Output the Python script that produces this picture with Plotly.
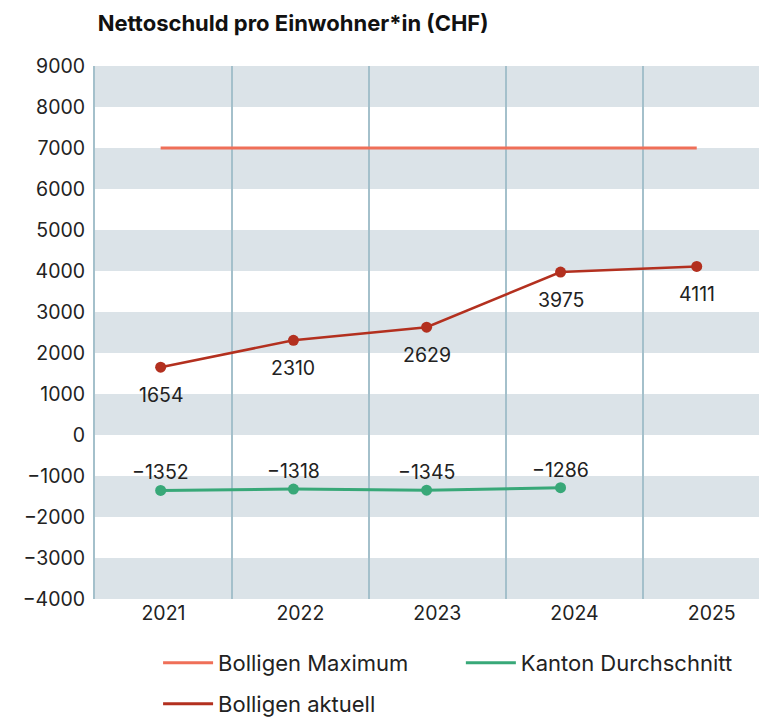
import plotly.graph_objects as go

# data
dates = ["2021-06-25", "2022-06-14", "2023-06-04", "2024-05-26", "2025-05-24"]
bolligen_aktuell = [1654, 2310, 2629, 3975, 4111]
kanton_dates = ["2021-06-25", "2022-06-14", "2023-06-04", "2024-05-26"]
kanton_schnitt = [-1352, -1318, -1345, -1286]
bolligen_max = [7000, 7000, 7000, 7000, 7000]
y_ticks = [-4000, -3000, -2000, -1000, 0, 1000, 2000, 3000, 4000, 5000, 6000, 7000, 8000, 9000]

FONT = "Inter"
TXT = "#222222"
C_MAX = "#ef6f58"
C_AKT = "#b3301f"
C_KAN = "#38a878"
BAND = "#dbe3e8"
GRID = "#a4c0cb"

fig = go.Figure()

fig.add_trace(go.Scatter(
    x=dates, y=bolligen_max, mode="lines", showlegend=False,
    line=dict(color=C_MAX, width=3)))
fig.add_trace(go.Scatter(
    x=kanton_dates, y=kanton_schnitt, mode="lines+markers", showlegend=False,
    line=dict(color=C_KAN, width=3), marker=dict(size=11, color=C_KAN)))
fig.add_trace(go.Scatter(
    x=dates, y=bolligen_aktuell, mode="lines+markers", showlegend=False,
    line=dict(color=C_AKT, width=2.5), marker=dict(size=11, color=C_AKT)))

# legend entries (line only, like the reference), one legend box per entry
fig.add_trace(go.Scatter(x=[None], y=[None], mode="lines", name="Bolligen Maximum",
                         line=dict(color=C_MAX, width=3), legend="legend"))
fig.add_trace(go.Scatter(x=[None], y=[None], mode="lines", name="Kanton Durchschnitt",
                         line=dict(color=C_KAN, width=3), legend="legend3"))
fig.add_trace(go.Scatter(x=[None], y=[None], mode="lines", name="Bolligen aktuell",
                         line=dict(color=C_AKT, width=3), legend="legend2"))

# grey bands every other 1000
shapes = []
for lo in y_ticks[:-1]:
    if (lo // 1000) % 2 == 0:
        shapes.append(dict(type="rect", xref="paper", yref="y", x0=0, x1=1, y0=lo, y1=lo + 1000,
                           fillcolor=BAND, line=dict(width=0), layer="below"))

annotations = []
for d, v in zip(dates, bolligen_aktuell):
    annotations.append(dict(x=d, y=v, text=str(v), showarrow=False, yshift=-28,
                            font=dict(family=FONT, size=19.5, color=TXT)))
for d, v in zip(kanton_dates, kanton_schnitt):
    annotations.append(dict(x=d, y=v, text=str(v).replace("-", "\u2212"), showarrow=False, yshift=18,
                            font=dict(family=FONT, size=19.5, color=TXT)))

leg = dict(orientation="h", xanchor="left", yref="container", yanchor="middle",
           itemwidth=50, font=dict(size=22, color=TXT), bgcolor="rgba(0,0,0,0)")

fig.update_layout(
    width=759, height=719,
    margin=dict(l=95, r=0, t=66, b=120),
    paper_bgcolor="white", plot_bgcolor="white",
    font=dict(family=FONT, size=19.5, color=TXT),
    title=dict(text="<b>Nettoschuld pro Einwohner*in (CHF)</b>", x=0.004, xref="paper", xanchor="left",
               y=0.967, yanchor="middle", font=dict(family=FONT, size=22, color="#111111")),
    shapes=shapes,
    annotations=annotations,
    xaxis=dict(type="date", range=["2021-01-01", "2025-11-06"], dtick="M12", tick0="2021-01-01",
               tickformat="%Y", ticklabelmode="period", showgrid=True, gridcolor=GRID, gridwidth=2,
               zeroline=False, ticks="", tickfont=dict(size=19.5, color=TXT), automargin=False),
    yaxis=dict(range=[-4000, 9000], tickvals=y_ticks, showgrid=False, zeroline=False,
               showline=True, linecolor=GRID, linewidth=2, ticks="",
               tickfont=dict(size=19.5, color=TXT), ticklabelstandoff=4, automargin=False),
    legend=dict(leg, x=0.095, y=0.078),
    legend3=dict(leg, x=0.551, y=0.078),
    legend2=dict(leg, x=0.095, y=0.021),
)

fig.write_html("out.html", config={"displayModeBar": False},
               post_script="document.body.style.margin='0';")
